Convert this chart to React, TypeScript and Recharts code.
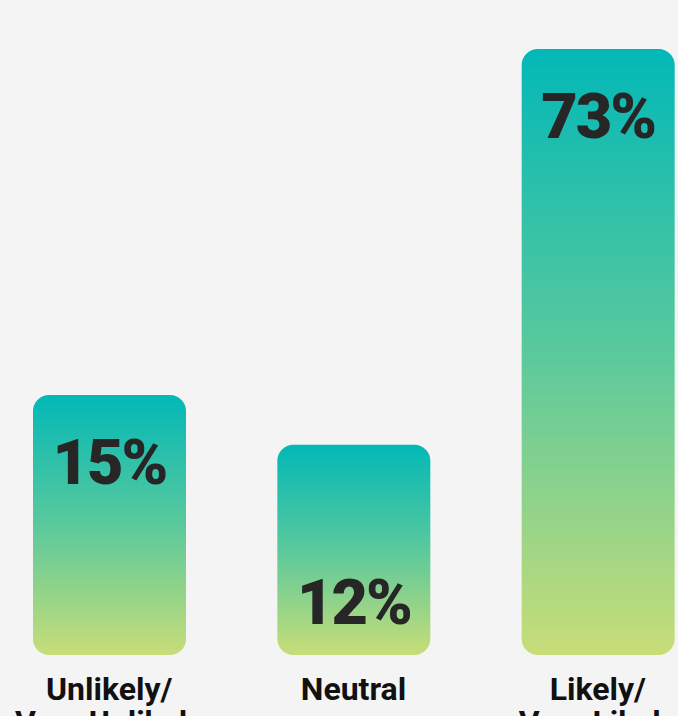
import React from "react";
import { BarChart, Bar, XAxis, YAxis, LabelList } from "recharts";

// answer categories (two-line labels)
const categories = ["Unlikely/\nVery Unlikely", "Neutral", "Likely/\nVery Likely"];
// shares shown on the bars
const shares = [15, 12, 73];
// bar heights as drawn, relative to the tallest bar
const barHeights = [42.9, 34.7, 100];

const labelSide = ["top", "bottom", "top"];

const data = categories.map((c, i) => ({ name: c, share: shares[i], height: barHeights[i] }));

const FONT = "Roboto, 'DejaVu Sans', sans-serif";

function CategoryTick(props: any) {
  const { x, y, payload } = props;
  const lines = String(payload.value).split("\n");
  return (
    <text x={x} y={y} textAnchor="middle" fontFamily={FONT} fontWeight={700} fontSize={32} fill="#111">
      {lines.map((l: string, i: number) => (
        <tspan key={i} x={x} dy={i === 0 ? 37 : 33}>{l}</tspan>
      ))}
    </text>
  );
}

function ShareLabel(props: any) {
  const { x, y, width, height, index } = props;
  const cx = x + width / 2;
  const baseY = labelSide[index] === "bottom" ? y + height - 31 : y + 89;
  return (
    <text x={cx} y={baseY} textAnchor="middle" fontFamily={FONT} fontWeight={900} fontSize={63} letterSpacing={-2} fill="#262626">
      {shares[index]}%
    </text>
  );
}

export default function App() {
  return (
    <div style={{ position: "fixed", left: 0, top: 0, width: 678, height: 716, overflow: "hidden", background: "#f4f4f4" }}>
      <div style={{ position: "absolute", left: -13, top: 0 }}>
        <BarChart width={733} height={716} data={data} margin={{ top: 49, right: 0, left: 0, bottom: 0 }}>
          <defs>
            <linearGradient id="barGrad" x1="0" y1="0" x2="0" y2="1">
              <stop offset="0%" stopColor="#02b8b7" />
              <stop offset="50%" stopColor="#5ac99c" />
              <stop offset="100%" stopColor="#c8dd78" />
            </linearGradient>
          </defs>
          <XAxis dataKey="name" axisLine={false} tickLine={false} height={61} tick={<CategoryTick />} interval={0} />
          <YAxis hide domain={[0, 100]} />
          <Bar dataKey="height" fill="url(#barGrad)" barSize={153} radius={16} isAnimationActive={false}>
            <LabelList dataKey="share" content={<ShareLabel />} />
          </Bar>
        </BarChart>
      </div>
    </div>
  );
}
